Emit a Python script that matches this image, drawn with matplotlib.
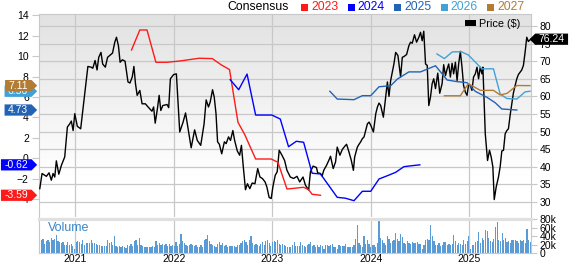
import numpy as np
import matplotlib
matplotlib.use('Agg')
import matplotlib.pyplot as plt
import matplotlib.transforms as mtransforms
from matplotlib.path import Path
from matplotlib.patches import Patch, Rectangle
from matplotlib.colors import LinearSegmentedColormap

plt.rcParams['font.family'] = ['Liberation Sans', 'DejaVu Sans']

# ---- data (x in decimal years) ----
price_t = [
    2020.642, 2020.665, 2020.709, 2020.736, 2020.759, 2020.777, 2020.794, 2020.810, 2020.835, 2020.861,
    2020.895, 2020.922, 2020.946, 2020.962, 2020.980, 2020.997,
    2021.023, 2021.057, 2021.090, 2021.130, 2021.163, 2021.180, 2021.203, 2021.223, 2021.240, 2021.263,
    2021.280, 2021.307, 2021.330, 2021.363, 2021.380, 2021.403, 2021.420, 2021.440, 2021.457, 2021.480,
    2021.507, 2021.523, 2021.537, 2021.557, 2021.580, 2021.597, 2021.613, 2021.630, 2021.657, 2021.680,
    2021.713, 2021.747, 2021.780, 2021.797, 2021.813, 2021.837, 2021.853, 2021.870, 2021.890, 2021.933,
    2021.950, 2021.967,
    2022.000, 2022.028, 2022.062, 2022.096, 2022.121, 2022.144, 2022.178, 2022.213, 2022.240, 2022.275,
    2022.309, 2022.330, 2022.354, 2022.371, 2022.395, 2022.412, 2022.430, 2022.446, 2022.464, 2022.488,
    2022.515, 2022.533, 2022.557, 2022.577, 2022.601, 2022.619, 2022.646, 2022.670, 2022.688, 2022.704,
    2022.729, 2022.749, 2022.773, 2022.797, 2022.825, 2022.853, 2022.876, 2022.900, 2022.928, 2022.946,
    2022.969, 2022.990,
    2023.007, 2023.031, 2023.051, 2023.071, 2023.099, 2023.126, 2023.150, 2023.184, 2023.217, 2023.252,
    2023.279, 2023.313, 2023.337, 2023.354, 2023.370, 2023.388, 2023.415, 2023.449, 2023.462, 2023.490,
    2023.507, 2023.523, 2023.551, 2023.574, 2023.592, 2023.619, 2023.643, 2023.660, 2023.687, 2023.711,
    2023.735, 2023.755, 2023.779, 2023.803, 2023.824, 2023.837, 2023.864, 2023.881, 2023.898, 2023.915,
    2023.932, 2023.949, 2023.966, 2023.983,
    2024.000, 2024.027, 2024.051, 2024.068, 2024.084, 2024.101, 2024.128, 2024.152, 2024.169, 2024.185,
    2024.202, 2024.219, 2024.235, 2024.253, 2024.276, 2024.303, 2024.320, 2024.336, 2024.364, 2024.387,
    2024.404, 2024.421, 2024.444, 2024.465, 2024.488, 2024.505, 2024.522, 2024.538, 2024.556, 2024.573,
    2024.589, 2024.606, 2024.623, 2024.639, 2024.657, 2024.680, 2024.700, 2024.724, 2024.740, 2024.758,
    2024.775, 2024.791, 2024.808, 2024.825, 2024.841, 2024.859, 2024.876, 2024.892, 2024.909, 2024.926,
    2024.942, 2024.960, 2024.977, 2024.993,
    2025.010, 2025.027, 2025.043, 2025.061, 2025.078, 2025.094, 2025.111, 2025.128, 2025.138, 2025.162,
    2025.185, 2025.205, 2025.222, 2025.239, 2025.253, 2025.273, 2025.296, 2025.313, 2025.330, 2025.347,
    2025.364, 2025.381, 2025.397, 2025.414, 2025.431, 2025.447, 2025.465, 2025.482, 2025.498, 2025.532,
    2025.549, 2025.566, 2025.583, 2025.599, 2025.624,
]
price = [
    33.8, 38.1, 37.3, 38.3, 36.2, 38.1, 37.1, 41.7, 37.9, 40.4, 42.8, 51.3, 52.2, 53.0, 50.3, 55.1,
    51.5, 50.8, 58.8, 68.5, 68.3, 68.0, 70.2, 67.5, 71.1, 72.5, 69.2, 68.3, 71.1, 71.9, 72.3, 75.4,
    76.8, 74.4, 69.7, 70.4, 70.0, 66.9, 64.1, 63.8, 65.5, 68.5, 63.6, 60.3, 61.7, 57.9, 57.9, 56.8,
    55.8, 57.0, 52.4, 56.8, 60.3, 56.0, 57.4, 57.7, 56.8, 65.0,
    66.2, 66.4, 49.9, 52.7, 55.3, 51.3, 45.4, 50.5, 47.5, 46.1, 52.2, 59.0, 57.0, 58.4, 61.9, 59.8,
    55.1, 47.1, 46.4, 43.7, 47.1, 46.6, 48.5, 47.5, 50.3, 47.5, 44.5, 43.3, 46.1, 40.9, 33.5, 35.2,
    33.8, 35.4, 35.2, 39.5, 37.1, 36.7, 35.7, 34.3, 31.3, 31.0,
    34.3, 37.6, 38.6, 44.7, 43.3, 41.8, 39.0, 37.1, 36.7, 37.3, 35.7, 37.1, 34.8, 34.1, 33.4, 38.6,
    40.2, 39.8, 38.3, 38.1, 37.4, 39.0, 40.4, 41.8, 43.0, 39.5, 41.4, 45.6, 43.3, 44.9, 45.8, 46.4,
    44.2, 41.8, 39.0, 42.8, 45.6, 46.4, 47.1, 48.0, 48.5, 50.3, 52.2, 52.7,
    51.8, 49.9, 55.1, 57.0, 58.1, 57.4, 54.1, 59.8, 64.1, 60.0, 64.5, 66.9, 69.2, 72.5, 71.6, 65.5,
    71.1, 71.3, 71.9, 74.4, 75.4, 75.1, 77.5, 75.4, 76.8, 78.2, 75.8, 78.5, 69.2, 68.8, 57.4, 59.8,
    63.6, 65.0, 62.2, 66.6, 60.9, 63.6, 69.0, 65.9, 67.8, 69.2, 65.5, 69.4, 66.4, 69.7, 64.5, 69.2,
    72.8, 68.3, 63.1, 61.2, 60.3, 63.4,
    63.1, 61.7, 65.5, 66.4, 68.3, 65.0, 68.3, 66.4, 68.3, 49.4, 41.8, 44.7, 42.8, 40.0, 30.7, 34.3,
    37.1, 40.0, 44.5, 44.7, 49.4, 50.3, 50.8, 54.6, 57.9, 60.9, 63.1, 65.0, 66.2, 67.5, 68.8, 72.5,
    76.8, 75.6, 76.24,
]

eps23_t = [2021.573, 2021.657, 2021.730, 2021.820, 2021.930, 2022.052, 2022.258, 2022.392, 2022.481,
           2022.567, 2022.653, 2022.722, 2022.832, 2022.990, 2023.058, 2023.150, 2023.319, 2023.370,
           2023.405, 2023.490]
eps23 = [10.59, 12.54, 12.54, 9.39, 9.39, 9.50, 9.78, 9.75, 9.15, 8.68, 3.53, 2.32, -0.05, -0.05,
         -0.37, -2.98, -2.81, -3.04, -3.49, -3.59]

eps24_t = [2022.574, 2022.660, 2022.745, 2022.832, 2022.997, 2023.082, 2023.166, 2023.245, 2023.319,
           2023.405, 2023.490, 2023.660, 2023.745, 2023.830, 2023.915, 2024.000, 2024.084, 2024.169,
           2024.253, 2024.336, 2024.421, 2024.498]
eps24 = [7.69, 6.71, 8.24, 4.24, 4.24, 3.85, 1.15, 1.68, 1.58, -1.44, -1.51, -3.79, -3.88, -4.12,
         -3.20, -3.20, -2.00, -1.68, -1.35, -0.80, -0.70, -0.62]

eps25_t = [2023.585, 2023.660, 2023.830, 2023.915, 2024.000, 2024.084, 2024.202, 2024.270, 2024.387,
           2024.505, 2024.657, 2024.775, 2024.876, 2024.977, 2025.061, 2025.179, 2025.263, 2025.330,
           2025.482]
eps25 = [6.56, 5.80, 5.74, 6.13, 6.13, 7.00, 7.10, 7.75, 8.45, 8.45, 9.05, 7.66, 7.50, 7.40, 6.55,
         5.97, 5.44, 4.83, 4.73]

eps26_t = [2024.672, 2024.747, 2024.828, 2024.919, 2024.990, 2025.128, 2025.245, 2025.313, 2025.381,
           2025.482, 2025.566, 2025.616]
eps26 = [10.20, 9.75, 10.40, 10.42, 10.10, 8.75, 8.75, 6.30, 5.85, 5.80, 6.50, 6.56]

eps27_t = [2024.747, 2024.909, 2024.990, 2025.111, 2025.245, 2025.313, 2025.384, 2025.482, 2025.616]
eps27 = [6.12, 6.12, 7.30, 6.65, 6.65, 6.20, 6.36, 7.12, 7.11]

# weekly volume, thousands of shares
volume = [
    22, 30, 34, 22, 28, 31, 26, 36, 30, 34, 42, 28, 26, 24, 26, 20, 18, 26, 18, 22,
    16, 10, 26, 28, 27, 22, 31, 18, 24, 24, 24, 31, 24, 24, 22, 20, 18, 17, 16, 16,
    17, 30, 24, 26, 18, 39, 16, 13, 16, 14, 16, 14, 11, 20, 16, 22, 16, 28, 31, 18,
    36, 20, 16, 14, 13, 13, 14, 14, 16, 13, 28, 18, 24, 20, 22, 18, 22, 16, 22, 16,
    18, 16, 25, 16, 22, 44, 28, 24, 18, 16, 20, 22, 20, 16, 18, 14, 13, 18, 13, 30,
    34, 42, 28, 22, 18, 16, 14, 22, 26, 20, 24, 16, 20, 14, 16, 16, 17, 16, 13, 18,
    20, 24, 28, 30, 26, 20, 30, 39, 24, 20, 22, 18, 16, 22, 26, 20, 28, 31, 24, 16,
    26, 28, 26, 31, 22, 18, 22, 20, 16,
    13, 13, 14, 20, 26, 16, 16, 16, 26, 18, 16, 13, 18, 22, 26, 16, 18, 14, 18, 14,
    18, 16, 10, 18, 18, 16, 18, 22, 13, 13, 10, 20, 16, 16, 16, 22, 14, 13, 14, 13,
    20, 34, 67, 24, 18, 13, 39, 22, 31, 22, 13, 18, 18, 14, 24, 77, 36, 30, 24, 20,
    39, 34, 24, 28, 30, 47, 34, 28, 44, 38, 24, 22, 28, 24, 22, 26, 24, 24, 26, 22,
    22, 9, 20, 31, 33, 31, 67, 39, 28, 18, 20, 24, 16, 18, 26, 26, 20, 22, 18, 22,
    42, 28, 18, 24, 22, 18, 30, 22, 28, 39, 10, 19, 20, 26, 28, 49, 24, 36, 30, 55,
    52, 36, 28, 26, 34, 61, 73, 31, 28, 46, 30, 36, 26, 28, 24, 31, 30, 31, 28, 24,
    31, 28, 31, 24, 57, 30, 26,
]

years = [2021, 2022, 2023, 2024, 2025]
legend_years = ['2023', '2024', '2025', '2026', '2027']
colors = ['#ff1a1a', '#0000ff', '#2263b5', '#42a2d6', '#b27c34']
last_labels = ['-3.59', '-0.62', '4.73', '6.56', '7.11']
last_values = [-3.59, -0.62, 4.73, 6.56, 7.11]

GRID = '#c8c8c8'
W, H = 571, 264
XMIN, XMAX = 2020.631, 2025.626


def box(l, t, r, b):
    return [l / W, 1 - b / H, (r - l) / W, (b - t) / H]


def tag_right(x0, y0, width, height, mutation_size):
    padx = 0.33 * mutation_size
    pady = 0.06 * mutation_size
    x0, x1 = x0 - padx, x0 + width + padx
    y0, y1 = y0 - pady, y0 + height + pady
    tip = (y1 - y0) / 2
    return Path([(x0, y0), (x1, y0), (x1 + tip, y0 + tip), (x1, y1), (x0, y1), (x0, y0)], closed=True)


def tag_left(x0, y0, width, height, mutation_size):
    padx = 0.33 * mutation_size
    pady = 0.06 * mutation_size
    x0, x1 = x0 - padx, x0 + width + padx
    y0, y1 = y0 - pady, y0 + height + pady
    tip = (y1 - y0) / 2
    return Path([(x0, y0), (x1, y0), (x1, y1), (x0, y1), (x0 - tip, y0 + tip), (x0, y0)], closed=True)


fig = plt.figure(figsize=(W / 100, H / 100), dpi=100)
ax = fig.add_axes(box(38.7, 14, 531, 217))
axv = fig.add_axes(box(38.7, 218.5, 531, 253))
ax2 = ax.twinx()

# background gradient
grad = np.clip(np.linspace(0, 1.25, 256), 0, 1)[:, None]
cmap = LinearSegmentedColormap.from_list('bg', ['#e2e2e2', '#ffffff'])
ax.imshow(grad, extent=(0, 1, 0, 1), transform=ax.transAxes, aspect='auto', cmap=cmap, zorder=0)

ax.plot(price_t, price, color='black', lw=1.0, zorder=4)
ax.set_xlim(XMIN, XMAX)
ax.set_ylim(25.75, 83.4)
ax.yaxis.tick_right()
ax.set_yticks(np.arange(30, 81, 5))
ax.set_xticks(years)
ax.tick_params(axis='x', length=0, labelbottom=False)
ax.tick_params(axis='y', length=4.5, width=0.8, color=GRID, labelsize=7.5, pad=1.8)
ax.grid(True, color=GRID, lw=0.9)
ax.set_axisbelow(True)
for s in ax.spines.values():
    s.set_color(GRID)
ax.spines['bottom'].set_visible(False)

ax.legend(handles=[Patch(facecolor='black')], labels=['Price ($)'], loc='upper right',
          bbox_to_anchor=(0.978, 0.975), frameon=False, fontsize=7.8, handlelength=1.0,
          handleheight=0.45, handletextpad=0.3, borderpad=0, borderaxespad=0)

# consensus EPS on the left axis
for tt, vv, c in zip([eps23_t, eps24_t, eps25_t, eps26_t, eps27_t],
                     [eps23, eps24, eps25, eps26, eps27], colors):
    ax2.plot(tt, vv, color=c, lw=1.0)
ax2.set_ylim(-5.71, 14.1)
ax2.set_xlim(XMIN, XMAX)
ax2.yaxis.tick_left()
ax2.set_yticks(np.arange(-4, 15, 2))
ax2.tick_params(axis='y', length=4.8, width=0.8, color=GRID, labelsize=7.5, pad=2.3)
for s in ax2.spines.values():
    s.set_visible(False)

lt = mtransforms.blended_transform_factory(ax2.transAxes, ax2.transData)
for i in range(len(last_values)):
    ax2.text(-0.0215, last_values[i], last_labels[i], transform=lt, ha='right', va='center',
             color='white', fontsize=7.5, clip_on=False, zorder=10,
             bbox=dict(boxstyle=tag_right, fc=colors[i], ec='none'))

rt = mtransforms.blended_transform_factory(ax.transAxes, ax.transData)
ax2.text(1.0155, (price[-1] - 25.75) / (83.4 - 25.75), '76.24', transform=ax2.transAxes,
         ha='left', va='center', color='white', fontsize=7.5, clip_on=False, zorder=10,
         bbox=dict(boxstyle=tag_left, fc='black', ec='none'))

# volume panel
n = len(volume)
vol_t = np.linspace(2020.640, 2025.620, n)
step = (vol_t[-1] - vol_t[0]) / (n - 1)
axv.bar(vol_t, volume, width=step * 0.75, color='#5b9bd5', zorder=2)
axv.set_xlim(XMIN, XMAX)
axv.set_ylim(0, 81.2)
axv.yaxis.tick_right()
axv.set_yticks([0, 20, 40, 60, 80])
axv.set_yticklabels(['0', '20k', '40k', '60k', '80k'])
axv.set_xticks(years)
axv.set_xticklabels([str(y) for y in years])
axv.tick_params(axis='x', length=0, labelsize=7.5, pad=0.8)
axv.tick_params(axis='y', length=4.5, width=0.8, color=GRID, labelsize=7.5, pad=1.8)
axv.grid(True, axis='x', color=GRID, lw=0.9)
axv.set_axisbelow(True)
for s in axv.spines.values():
    s.set_color(GRID)
axv.spines['top'].set_color('#e0e0e0')
axv.spines['top'].set_linewidth(2.3)
axv.text(0.019, 0.72, 'Volume', transform=axv.transAxes, color='#3a87c8', fontsize=9,
         va='center', ha='left', zorder=5)

# consensus legend across the top
fig.text(227 / W, 1 - 7 / H, 'Consensus', fontsize=8.8, va='center', ha='left')
for i, (lab, c) in enumerate(zip(legend_years, colors)):
    x0 = 301 + i * 46.5
    fig.add_artist(Rectangle((x0 / W, 1 - 10.5 / H), 7 / W, 7 / H, transform=fig.transFigure,
                             facecolor=c, edgecolor='none'))
    fig.text((x0 + 10) / W, 1 - 7 / H, lab, color=c, fontsize=8.8, va='center', ha='left')

fig.savefig('out.png', dpi=100)
